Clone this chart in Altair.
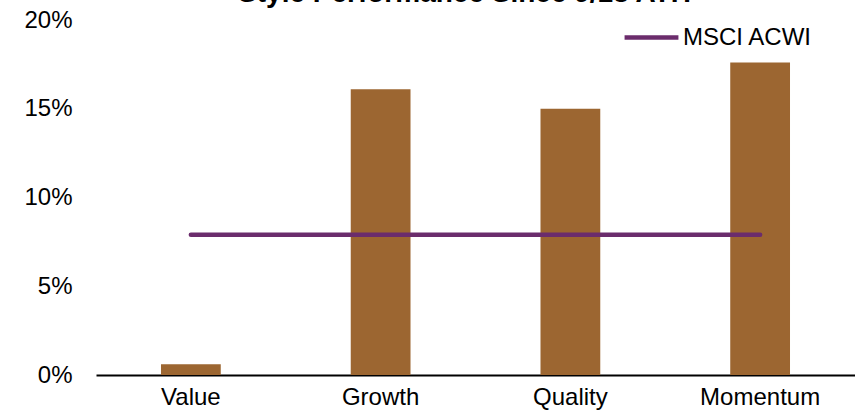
import altair as alt
import pandas as pd

categories = ["Value", "Growth", "Quality", "Momentum"]
style_returns = [0.006, 0.161, 0.150, 0.176]
acwi_return = [0.079, 0.079, 0.079, 0.079]
series_name = "MSCI ACWI"
title_text = "Style Performance Since 9/18 ATH"

bars_df = pd.DataFrame({"style": categories, "ret": style_returns})
line_df = pd.DataFrame({"style": categories, "ret": acwi_return, "series": [series_name] * 4})

FONT = "Liberation Sans"
FS = 24

x_enc = alt.X(
    "style:N",
    sort=categories,
    title=None,
    scale=alt.Scale(paddingInner=0.685, paddingOuter=0.3425),
    axis=alt.Axis(
        labelAngle=0, labelFontSize=FS, labelFont=FONT, labelColor="black",
        ticks=False, domainColor="black", domainWidth=2, labelPadding=10,
    ),
)
y_enc = alt.Y(
    "ret:Q",
    title=None,
    scale=alt.Scale(domain=[0, 0.2], nice=False),
    axis=alt.Axis(
        values=[0, 0.05, 0.10, 0.15, 0.20], format=".0%", labelFontSize=FS,
        labelFont=FONT, labelColor="black", ticks=False, domain=False,
        grid=False, labelPadding=24,
    ),
)

bars = alt.Chart(bars_df).mark_bar(color="#9C6631").encode(x=x_enc, y=y_enc)

line = alt.Chart(line_df).mark_line(strokeWidth=4.5, strokeCap="round").encode(
    x=alt.X("style:N", sort=categories),
    y=alt.Y("ret:Q"),
    color=alt.Color(
        "series:N",
        scale=alt.Scale(range=["#6B2C6C"]),
        legend=alt.Legend(
            title=None, orient="none", legendX=526, legendY=-12,
            symbolType="stroke", symbolSize=2900, symbolStrokeWidth=4.5,
            labelFontSize=FS, labelFont=FONT, labelColor="black",
            labelOffset=2,
        ),
    ),
)

chart = (
    alt.layer(bars, line)
    .properties(
        width=759,
        height=355,
        padding={"left": 96, "top": 20, "right": 0, "bottom": 44},
        autosize=alt.AutoSizeParams(type="none"),
        title=alt.TitleParams(
            title_text, fontSize=28, font=FONT, fontWeight="bold",
            color="black", anchor="middle", dx=-11, offset=0,
        ),
    )
    .configure_view(stroke=None)
)

chart.save("out.html", embed_options={"renderer": "svg", "actions": False})
